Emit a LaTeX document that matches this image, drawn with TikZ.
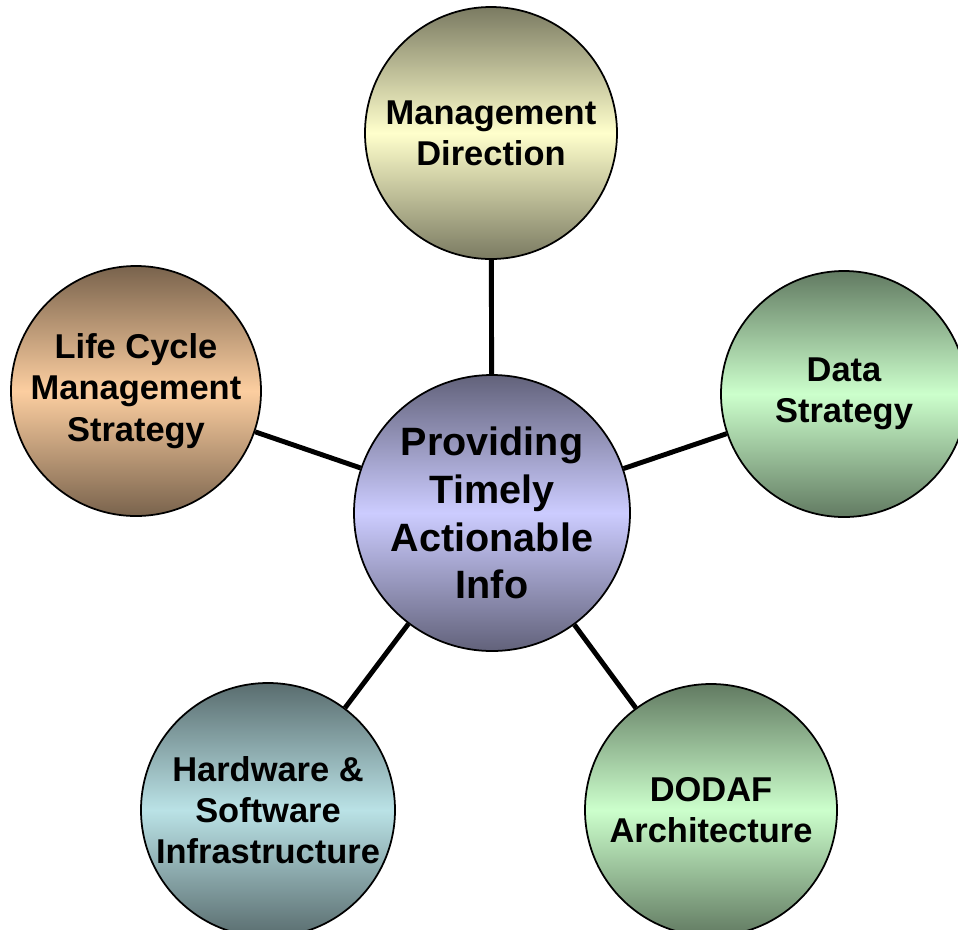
\documentclass[tikz,border=0pt]{standalone}
\usepackage{fontspec}
\setmainfont{Liberation Sans}
\usepackage{xcolor}
\usepackage{tikz}

\definecolor{mgmtyellow}{RGB}{255,255,204}
\definecolor{datagreen}{RGB}{204,255,204}
\definecolor{lifepeach}{RGB}{252,206,160}
\definecolor{hubblue}{RGB}{204,204,255}
\definecolor{infracyan}{RGB}{186,226,230}

\begin{document}
\begin{tikzpicture}[
  bubble/.style={circle, draw, line width=1pt, inner sep=0pt, align=center,
    font=\bfseries\fontsize{19.6}{23.5}\selectfont},
  ballfill/.style={top color=#1!48!black, bottom color=#1!48!black, middle color=#1},
  spoke/.style={line width=2.8pt}
]
\useasboundingbox (0,0) rectangle (19.16,-18.58);
\node[bubble, ballfill=hubblue, minimum size=5.52cm,
  font=\bfseries\fontsize{22.5}{27.2}\selectfont] (hub) at (9.84,-10.26) {Providing\\Timely\\Actionable\\Info};
\node[bubble, ballfill=mgmtyellow, minimum size=5.04cm] (mgmt) at (9.82,-2.66) {Management\\Direction};
\node[bubble, ballfill=datagreen, minimum size=4.92cm] (data) at (16.88,-7.88) {Data\\Strategy};
\node[bubble, ballfill=lifepeach, minimum size=5.0cm] (life) at (2.72,-7.82) {Life Cycle\\Management\\Strategy};
\node[bubble, ballfill=infracyan, minimum size=5.08cm] (infra) at (5.36,-16.2) {Hardware \&\\Software\\Infrastructure};
\node[bubble, ballfill=datagreen, minimum size=5.04cm] (dodaf) at (14.22,-16.2) {DODAF\\Architecture};
\draw[spoke] (hub) -- (mgmt);
\draw[spoke] (hub) -- (data);
\draw[spoke] (hub) -- (life);
\draw[spoke] (hub) -- (infra);
\draw[spoke] (hub) -- (dodaf);
\end{tikzpicture}
\end{document}
